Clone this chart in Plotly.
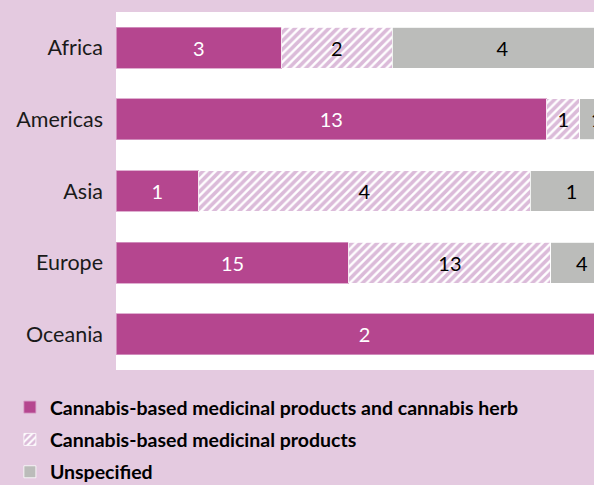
import plotly.graph_objects as go

regions = ["Africa", "Americas", "Asia", "Europe", "Oceania"]
both = [3, 13, 1, 15, 2]
products = [2, 1, 4, 13, 0]
unspecified = [4, 1, 1, 4, 0]

series_names = [
    "Cannabis-based medicinal products and cannabis herb",
    "Cannabis-based medicinal products",
    "Unspecified",
]

BG = "#E4CAE0"
MAGENTA = "#B5468F"
HATCH = "#B877B4"
GREY = "#BBBCBA"
FONT = "Lato"


def labels(vals):
    return [str(v) if v else "" for v in vals]


fig = go.Figure()

fig.add_trace(go.Bar(
    y=regions, x=both, orientation="h", name=series_names[0],
    legendgroup="a",
    marker=dict(color=MAGENTA, line=dict(color="#D79CC6", width=0.8)),
    text=labels(both), textposition="inside", insidetextanchor="middle",
    textfont=dict(color="white", size=20, family=FONT),
))
fig.add_trace(go.Bar(
    y=regions, x=products, orientation="h", name=series_names[1],
    legendgroup="b",
    marker=dict(color="white",
                line=dict(color="white", width=0.8),
                pattern=dict(shape="/", fgcolor=HATCH, bgcolor="white",
                             size=6, solidity=0.6)),
    text=labels(products), textposition="inside", insidetextanchor="middle",
    textfont=dict(color="black", size=20, family=FONT),
))
fig.add_trace(go.Bar(
    y=regions, x=unspecified, orientation="h", name=series_names[2],
    legendgroup="c",
    marker=dict(color=GREY, line=dict(color="white", width=0.8)),
    text=labels(unspecified), textposition="inside", insidetextanchor="middle",
    textfont=dict(color="black", size=20, family=FONT),
))

fig.update_layout(
    barmode="stack",
    barnorm="percent",
    bargap=0.43,
    width=594, height=485,
    margin=dict(l=116, r=0, t=12, b=115, autoexpand=False),
    paper_bgcolor=BG,
    plot_bgcolor="white",
    font=dict(family=FONT, size=20, color="#1a1a1a"),
    uniformtext=dict(minsize=20, mode="show"),
    showlegend=True,
    legend=dict(
        orientation="v",
        x=-0.222, xanchor="left",
        y=-0.050, yanchor="top",
        traceorder="grouped",
        tracegroupgap=4,
        font=dict(family=FONT, size=19.5, color="black", weight="bold"),
        itemwidth=30,
        bgcolor="rgba(0,0,0,0)",
    ),
    xaxis=dict(
        range=[0, 100 * 478 / 497],
        showgrid=False, zeroline=False, showticklabels=False,
        fixedrange=True,
    ),
    yaxis=dict(
        autorange="reversed",
        showgrid=False, zeroline=False,
        ticklabelstandoff=12,
        tickfont=dict(size=21.5, color="#1a1a1a"),
    ),
)

fig.write_html("out.html",
               config={"displayModeBar": False},
               post_script="document.body.style.margin='0';"
                           "document.body.style.overflow='hidden';")
